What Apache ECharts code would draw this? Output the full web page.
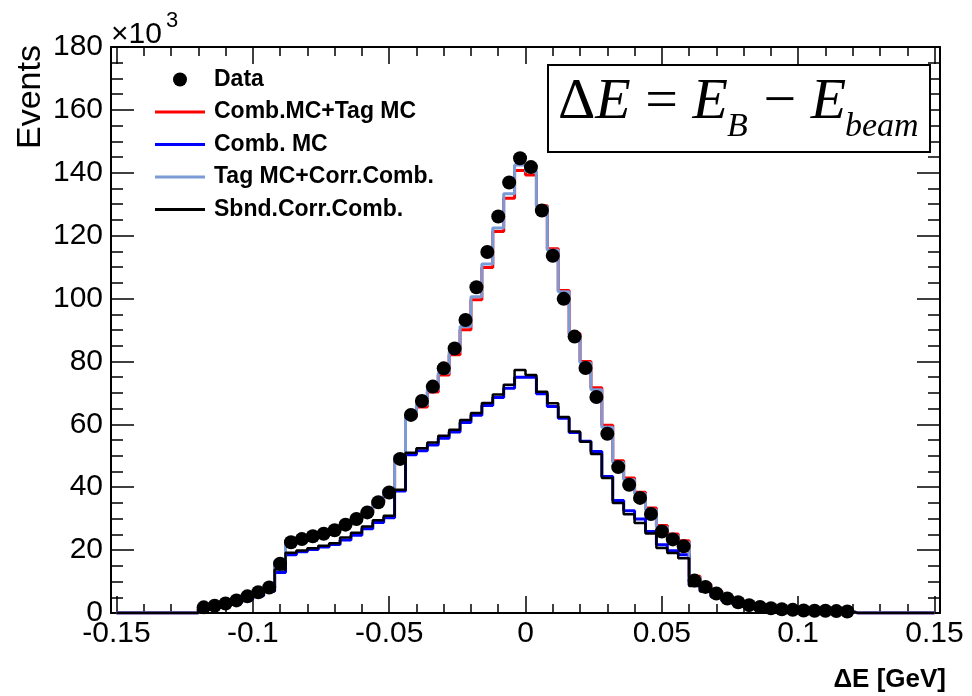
<!DOCTYPE html>
<html>
<head>
<meta charset="utf-8">
<script src="https://cdn.jsdelivr.net/npm/echarts@6/dist/echarts.min.js"></script>
<style>
  html, body { margin: 0; padding: 0; background: #fff; }
  #chart { width: 972px; height: 696px; }
</style>
</head>
<body>
<div id="chart"></div>
<script>
// Binning of the ΔE histograms (GeV)
const X_MIN = -0.152;
const X_MAX = 0.152;
const BIN_WIDTH = 0.004;
const FIRST_FILLED_CENTER = -0.118;   // centre of the first non-empty bin

// Axis tick labels
const xTickLabels = [-0.15, -0.1, -0.05, 0, 0.05, 0.1, 0.15];
const xMinorTicks = [-0.14, -0.13, -0.12, -0.11, -0.09, -0.08, -0.07, -0.06,
                     -0.04, -0.03, -0.02, -0.01, 0.01, 0.02, 0.03, 0.04,
                     0.06, 0.07, 0.08, 0.09, 0.11, 0.12, 0.13, 0.14];

// Events per bin (x10^3), bins centred from -0.118 to 0.118 GeV
const dataEvents = [1.8, 2.3, 3.0, 4.0, 5.3, 6.6, 8.1, 15.7, 22.5, 23.5,
  24.4, 25.2, 26.3, 28.1, 29.9, 32.0, 35.2, 38.3, 49.0, 63.0,
  67.4, 72.0, 77.8, 84.1, 93.2, 103.6, 114.8, 126.1, 136.9, 144.6,
  141.8, 128.0, 113.6, 99.9, 87.9, 77.9, 68.7, 57.0, 46.4, 40.8,
  36.6, 31.5, 25.9, 23.4, 21.2, 10.3, 8.3, 6.2, 4.6, 3.4,
  2.5, 1.9, 1.5, 1.2, 1.0, 0.8, 0.7, 0.7, 0.6, 0.5];

const combPlusTag = [1.7, 2.2, 2.9, 3.9, 5.1, 6.4, 8.0, 16.3, 22.8, 23.6,
  24.3, 25.1, 26.2, 28.0, 29.8, 32.0, 35.2, 38.8, 49.5, 62.5,
  65.5, 70.3, 75.7, 82.1, 90.1, 99.6, 109.9, 121.3, 131.9, 140.7,
  139.3, 129.5, 115.8, 102.6, 88.9, 80.0, 71.6, 59.7, 48.4, 42.9,
  38.4, 33.4, 27.8, 25.1, 23.0, 11.7, 9.2, 7.0, 5.2, 3.8,
  2.9, 2.2, 1.7, 1.3, 1.1, 0.9, 0.8, 0.7, 0.6, 0.5];

const combMC = [1.3, 1.8, 2.4, 3.3, 4.4, 5.5, 6.9, 12.9, 18.5, 19.5,
  20.2, 21.0, 21.8, 23.2, 24.7, 26.8, 28.8, 30.3, 38.8, 50.3,
  51.6, 53.4, 55.6, 57.6, 60.6, 62.9, 66.0, 68.5, 71.5, 75.0,
  75.0, 69.7, 65.7, 61.9, 57.4, 54.6, 51.4, 43.4, 35.8, 32.5,
  29.9, 25.9, 21.7, 19.8, 18.5, 9.0, 7.1, 5.3, 3.9, 2.9,
  2.2, 1.7, 1.3, 1.0, 0.8, 0.7, 0.6, 0.5, 0.5, 0.4];

const tagPlusCorr = [1.7, 2.2, 2.9, 3.9, 5.1, 6.4, 8.0, 16.5, 23.0, 23.8,
  24.5, 25.3, 26.4, 28.2, 30.0, 32.3, 35.5, 39.2, 50.0, 63.5,
  66.2, 71.0, 76.3, 83.1, 91.1, 100.6, 111.0, 122.4, 133.3, 142.5,
  140.5, 129.2, 115.4, 102.2, 88.5, 79.5, 71.0, 59.1, 47.9, 42.4,
  37.9, 32.8, 27.3, 24.6, 22.5, 11.3, 8.9, 6.8, 5.0, 3.7,
  2.8, 2.1, 1.6, 1.3, 1.1, 0.9, 0.8, 0.7, 0.6, 0.5];

const sbndCorr = [1.4, 1.9, 2.5, 3.4, 4.5, 5.6, 7.0, 13.8, 19.2, 19.9,
  20.6, 21.4, 22.2, 24.0, 25.5, 27.5, 29.5, 30.9, 39.2, 51.0,
  52.4, 54.2, 56.4, 58.3, 61.4, 63.6, 66.8, 69.5, 72.6, 77.3,
  75.7, 70.4, 66.7, 62.3, 57.7, 54.5, 50.6, 42.9, 35.0, 31.4,
  28.6, 25.3, 20.7, 19.1, 17.4, 8.6, 6.8, 5.1, 3.8, 2.8,
  2.1, 1.6, 1.2, 1.0, 0.8, 0.7, 0.6, 0.5, 0.5, 0.4];

// ---- bin bookkeeping ----
const nBins = Math.round((X_MAX - X_MIN) / BIN_WIDTH);
const firstIdx = Math.round((FIRST_FILLED_CENTER - X_MIN) / BIN_WIDTH - 0.5);
const centers = [];
for (let i = 0; i < nBins; i++) centers.push(+(X_MIN + (i + 0.5) * BIN_WIDTH).toFixed(4));

// full-range histogram (empty bins outside the filled window)
function histo(values) {
  return centers.map((c, i) => {
    const k = i - firstIdx;
    return [c, (k >= 0 && k < values.length) ? values[k] : 0];
  });
}
function points(values) {
  return values.map((v, k) => [centers[firstIdx + k], v]);
}

const FONT = '"Liberation Sans", Arial, Helvetica, sans-serif';
const SERIF = '"Liberation Serif", "Times New Roman", serif';
const LINE_ICON = 'path://M0,0 L50,0 L50,3 L0,3 Z';

function stepSeries(name, values, color, width, z) {
  return {
    name, type: 'line', step: 'middle', data: histo(values),
    symbol: 'none', showSymbol: false, z,
    lineStyle: { color, width }, itemStyle: { color },
    emphasis: { disabled: true }, animation: false
  };
}

const tickLine = { color: '#000', width: 1.5 };
const baseX = { type: 'value', min: X_MIN, max: X_MAX, splitLine: { show: false } };
const baseY = { type: 'value', min: 0, max: 180, interval: 20, splitLine: { show: false } };

const chart = echarts.init(document.getElementById('chart'), null, { renderer: 'canvas' });
chart.setOption({
  animation: false,
  backgroundColor: '#fff',
  grid: { left: 111, right: 32, top: 47, bottom: 83, containLabel: false },
  xAxis: [
    Object.assign({}, baseX, {
      position: 'bottom',
      axisLine: { show: true, onZero: false, lineStyle: { color: '#000', width: 2 } },
      axisTick: { show: true, inside: true, length: 17, lineStyle: tickLine, customValues: xTickLabels },
      axisLabel: {
        show: true, customValues: xTickLabels, margin: 6,
        fontFamily: FONT, fontSize: 30, color: '#000',
        formatter: v => String(+(+v).toFixed(3))
      }
    }),
    Object.assign({}, baseX, {
      position: 'bottom',
      axisLine: { show: false, onZero: false },
      axisTick: { show: true, inside: true, length: 9, lineStyle: tickLine, customValues: xMinorTicks },
      axisLabel: { show: false }
    }),
    Object.assign({}, baseX, {
      position: 'top',
      axisLine: { show: true, onZero: false, lineStyle: { color: '#000', width: 2 } },
      axisTick: { show: true, inside: true, length: 17, lineStyle: tickLine, customValues: xTickLabels },
      axisLabel: { show: false }
    }),
    Object.assign({}, baseX, {
      position: 'top',
      axisLine: { show: false, onZero: false },
      axisTick: { show: true, inside: true, length: 9, lineStyle: tickLine, customValues: xMinorTicks },
      axisLabel: { show: false }
    })
  ],
  yAxis: [
    Object.assign({}, baseY, {
      position: 'left',
      axisLine: { show: true, onZero: false, lineStyle: { color: '#000', width: 2 } },
      axisTick: { show: true, inside: true, length: 23, lineStyle: tickLine },
      minorTick: { show: true, splitNumber: 4, length: 12, lineStyle: tickLine },
      axisLabel: { show: true, margin: 8, fontFamily: FONT, fontSize: 30, color: '#000' }
    }),
    Object.assign({}, baseY, {
      position: 'right',
      axisLine: { show: true, onZero: false, lineStyle: { color: '#000', width: 2 } },
      axisTick: { show: true, inside: true, length: 23, lineStyle: tickLine },
      minorTick: { show: true, splitNumber: 4, length: 12, lineStyle: tickLine },
      axisLabel: { show: false }
    })
  ],
  legend: {
    orient: 'vertical', left: 150, top: 63,
    itemWidth: 50, itemHeight: 14, itemGap: 9.5,
    symbolKeepAspect: true,
    selectedMode: false,
    textStyle: { fontFamily: FONT, fontWeight: 'bold', fontSize: 23, lineHeight: 23, color: '#000', padding: [0, 0, 0, 4] },
    data: [
      { name: 'Data', icon: 'circle' },
      { name: 'Comb.MC+Tag MC', icon: LINE_ICON },
      { name: 'Comb. MC', icon: LINE_ICON },
      { name: 'Tag MC+Corr.Comb.', icon: LINE_ICON },
      { name: 'Sbnd.Corr.Comb.', icon: LINE_ICON }
    ]
  },
  series: [
    stepSeries('Comb.MC+Tag MC', combPlusTag, '#ff0000', 3, 2),
    stepSeries('Comb. MC', combMC, '#0000ff', 3, 3),
    stepSeries('Tag MC+Corr.Comb.', tagPlusCorr, '#7b9bd6', 3, 4),
    stepSeries('Sbnd.Corr.Comb.', sbndCorr, '#000000', 2.5, 5),
    {
      name: 'Data', type: 'scatter', data: points(dataEvents),
      symbol: 'circle', symbolSize: 14, z: 6,
      itemStyle: { color: '#000', opacity: 1 },
      emphasis: { disabled: true }, animation: false
    }
  ],
  graphic: [
    // y-axis title
    {
      type: 'text', x: 31, y: 97, rotation: Math.PI / 2,
      style: { text: 'Events', font: '34px ' + FONT, fill: '#000', align: 'center', verticalAlign: 'middle' }
    },
    // exponent of the y scale
    {
      type: 'text', x: 111, y: 35,
      style: { text: '×10', font: '30px ' + FONT, fill: '#000', verticalAlign: 'middle' }
    },
    {
      type: 'text', x: 166, y: 21,
      style: { text: '3', font: '22px ' + FONT, fill: '#000', verticalAlign: 'middle' }
    },
    // x-axis title
    {
      type: 'text', x: 946, y: 680,
      style: { text: 'ΔE [GeV]', font: 'bold 26px ' + FONT, fill: '#000', align: 'right', verticalAlign: 'middle' }
    },
    // definition box
    {
      type: 'rect', z: 100,
      shape: { x: 548, y: 65, width: 382, height: 87 },
      style: { fill: '#fff', stroke: '#000', lineWidth: 2 }
    },
    {
      type: 'text', z: 101, x: 558, y: 103,
      style: {
        text: '{d|Δ}{e|E}{d| = }{e|E}', verticalAlign: 'middle',
        rich: {
          d: { font: '58px ' + SERIF, fill: '#000' },
          e: { font: 'italic 58px ' + SERIF, fill: '#000' }
        }
      }
    },
    {
      type: 'text', z: 101, x: 727, y: 127,
      style: { text: 'B', font: 'italic 34px ' + SERIF, fill: '#000', verticalAlign: 'middle' }
    },
    {
      type: 'text', z: 101, x: 749, y: 103,
      style: {
        text: '{d| − }{e|E}', verticalAlign: 'middle',
        rich: {
          d: { font: '58px ' + SERIF, fill: '#000' },
          e: { font: 'italic 58px ' + SERIF, fill: '#000' }
        }
      }
    },
    {
      type: 'text', z: 101, x: 845, y: 127,
      style: { text: 'beam', font: 'italic 34px ' + SERIF, fill: '#000', verticalAlign: 'middle' }
    }
  ]
});
</script>
</body>
</html>
